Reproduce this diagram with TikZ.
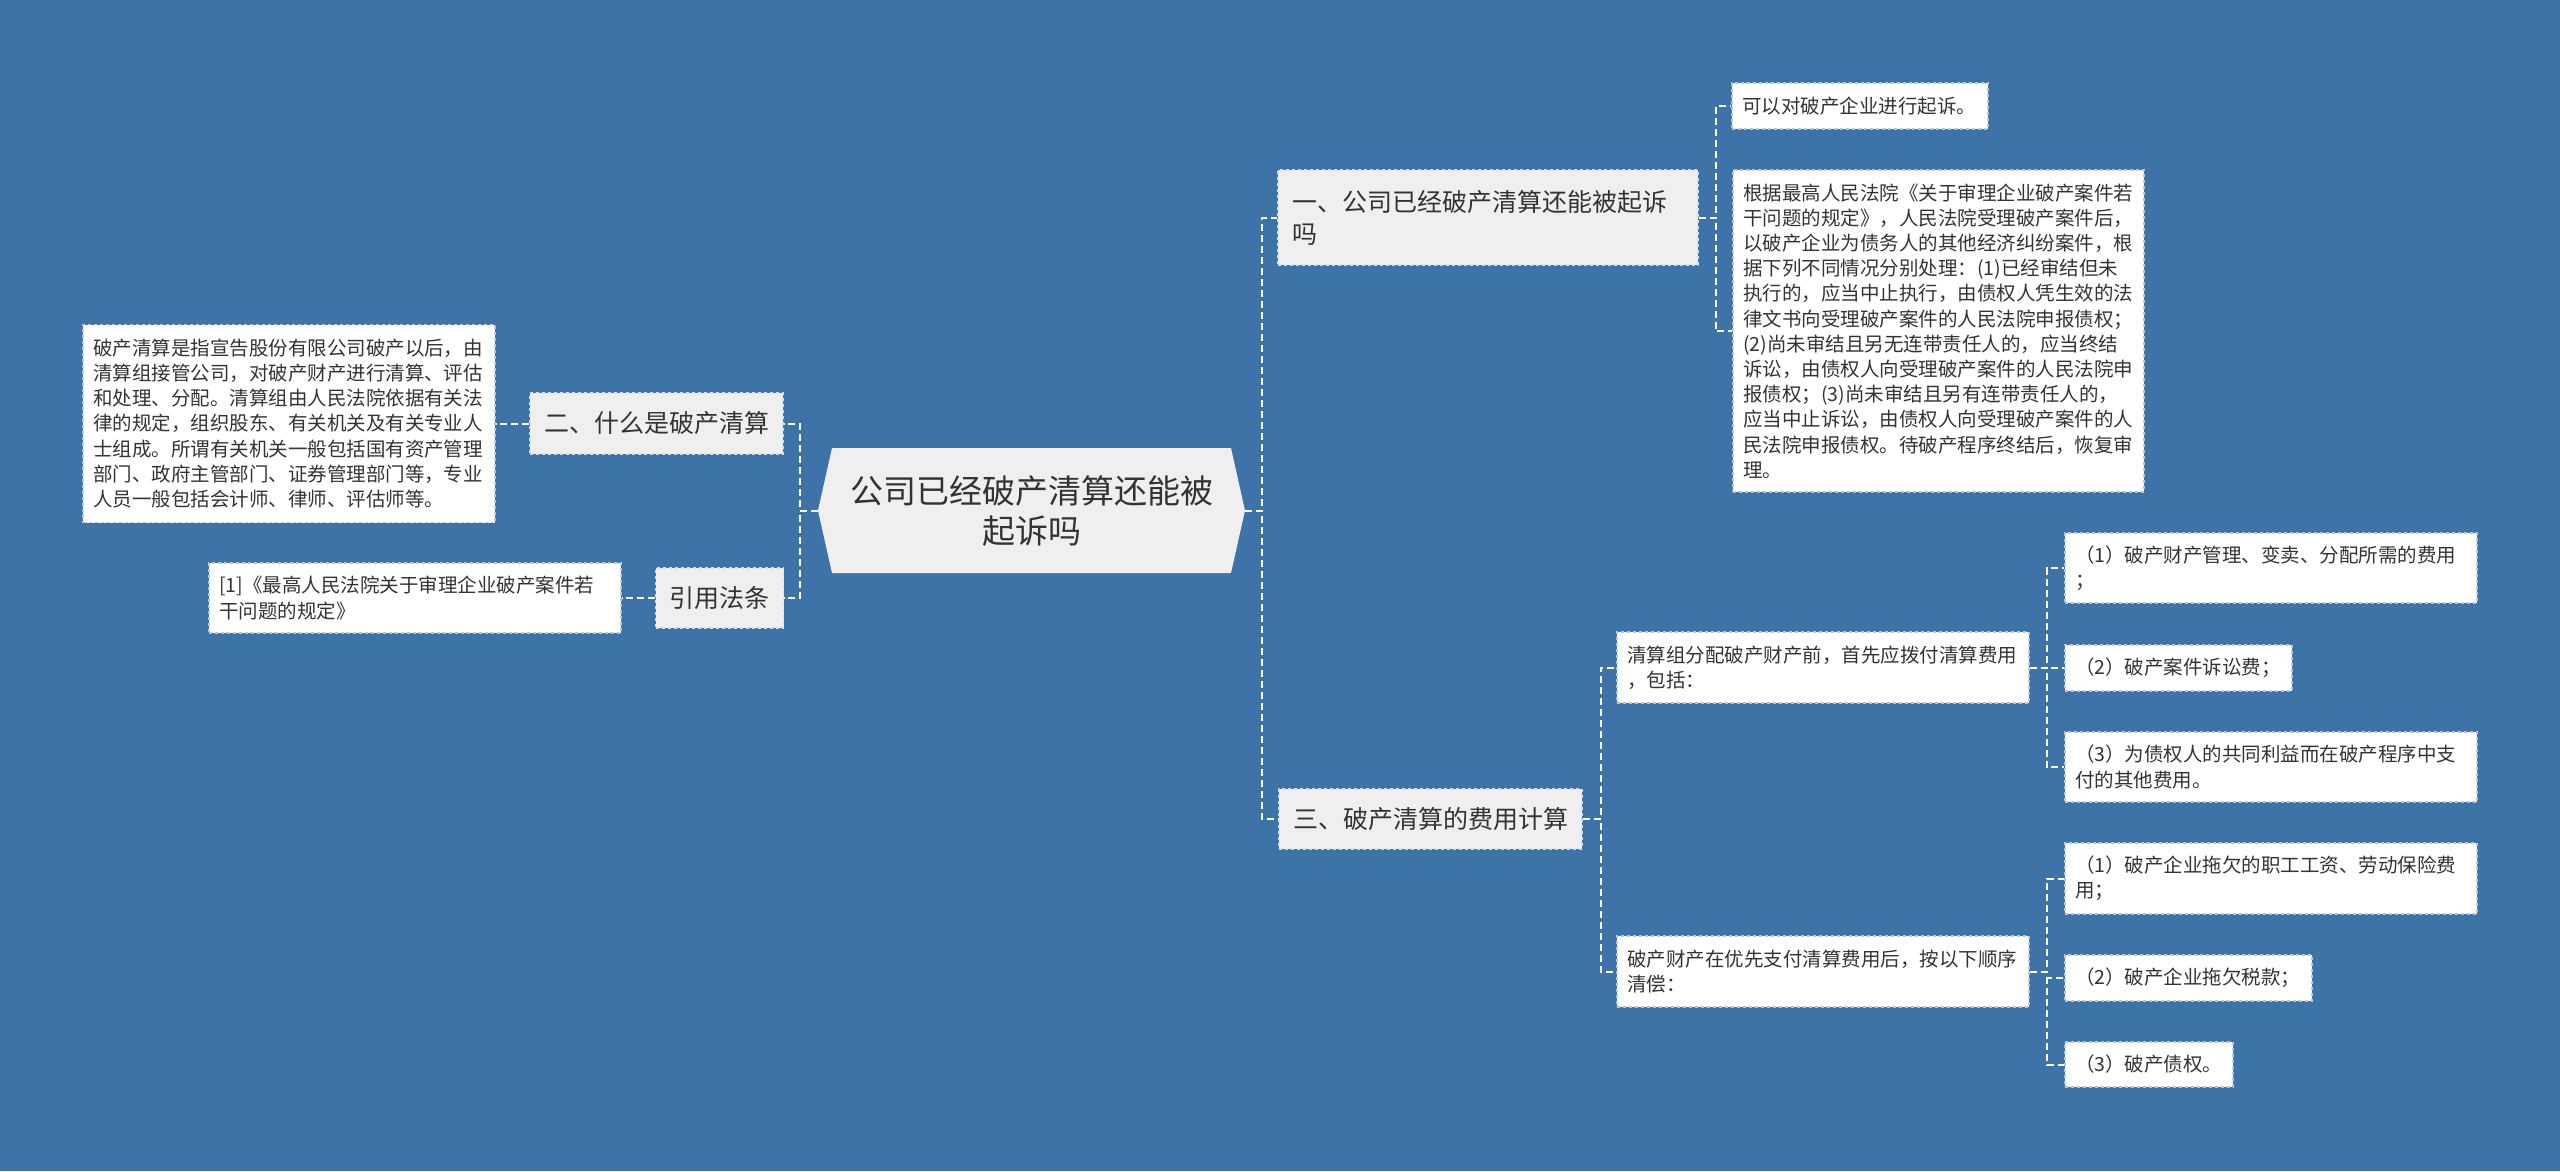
\documentclass[tikz,border=0pt]{standalone}
\usepackage{fontspec}
\setmainfont{Noto Sans CJK SC}
\definecolor{bgblue}{HTML}{3D73A6}
\definecolor{boxgray}{HTML}{EFEFEF}
\definecolor{txt}{HTML}{333333}
\definecolor{leafedge}{HTML}{BCC6D0}
\definecolor{midedge}{HTML}{D5DFE9}
\begin{document}
\begin{tikzpicture}[x=1pt,y=-1pt,
  conn/.style={draw=white, line width=2pt, dash pattern=on 7pt off 4pt},
  mid/.style={fill=boxgray, draw=midedge, dashed, line width=1.2pt, text=txt, font=\fontsize{25}{32}\selectfont, inner xsep=14pt, inner ysep=0pt},
  leaf/.style={fill=white, draw=leafedge, dashed, line width=1.2pt, text=txt, font=\fontsize{19.5}{25.2}\selectfont, align=left, inner xsep=10pt, inner ysep=0pt},
]
\fill[bgblue] (0,0) rectangle (2560,1171);
\useasboundingbox (0,0) rectangle (2560,1171);

% root
\fill[boxgray] (818,510.5) -- (832,448) -- (1231,448) -- (1245,510.5) -- (1231,573) -- (832,573) -- cycle;
\node[text=txt, font=\fontsize{33}{40}\selectfont, align=center, minimum width=427pt, minimum height=125pt, inner sep=0pt] (root) at (1031.5,510.5) {公司已经破产清算还能被\\起诉吗};

% level 1
\node[mid, text width=392pt, align=left, minimum height=95pt] (n1) at (1488,217.5) {一、公司已经破产清算还能被起诉\\吗};
\node[mid, minimum width=253pt, minimum height=61pt] (n2) at (656.5,423.5) {二、什么是破产清算};
\node[mid, minimum width=303pt, minimum height=60pt] (n3) at (1430.5,819) {三、破产清算的费用计算};
\node[mid, minimum width=127pt, minimum height=60pt] (n4) at (719.5,598) {引用法条};

% leaves
\node[leaf, text width=236pt, minimum height=46pt] (L1a) at (1860,106) {可以对破产企业进行起诉。};
\node[leaf, text width=391pt, minimum height=322pt] (L1b) at (1938.5,331) {根据最高人民法院《关于审理企业破产案件若\\干问题的规定》，人民法院受理破产案件后，\\以破产企业为债务人的其他经济纠纷案件，根\\据下列不同情况分别处理：(1)已经审结但未\\执行的，应当中止执行，由债权人凭生效的法\\律文书向受理破产案件的人民法院申报债权；\\(2)尚未审结且另无连带责任人的，应当终结\\诉讼，由债权人向受理破产案件的人民法院申\\报债权；(3)尚未审结且另有连带责任人的，\\应当中止诉讼，由债权人向受理破产案件的人\\民法院申报债权。待破产程序终结后，恢复审\\理。};
\node[leaf, text width=392pt, minimum height=198pt] (L2) at (289,423.5) {破产清算是指宣告股份有限公司破产以后，由\\清算组接管公司，对破产财产进行清算、评估\\和处理、分配。清算组由人民法院依据有关法\\律的规定，组织股东、有关机关及有关专业人\\士组成。所谓有关机关一般包括国有资产管理\\部门、政府主管部门、证券管理部门等，专业\\人员一般包括会计师、律师、评估师等。};
\node[leaf, text width=392pt, minimum height=70pt] (L4) at (415,598) {[1]《最高人民法院关于审理企业破产案件若\\干问题的规定》};
\node[leaf, text width=392pt, minimum height=71pt] (L3a) at (1823,667.5) {清算组分配破产财产前，首先应拨付清算费用\\，包括：};
\node[leaf, text width=392pt, minimum height=71pt] (L3b) at (1823,971.5) {破产财产在优先支付清算费用后，按以下顺序\\清偿：};
\node[leaf, text width=392pt, minimum height=70pt] (L3a1) at (2271,568) {（1）破产财产管理、变卖、分配所需的费用\\；};
\node[leaf, text width=207pt, minimum height=46pt] (L3a2) at (2178.5,668) {（2）破产案件诉讼费；};
\node[leaf, text width=392pt, minimum height=70pt] (L3a3) at (2271,767) {（3）为债权人的共同利益而在破产程序中支\\付的其他费用。};
\node[leaf, text width=392pt, minimum height=71pt] (L3b1) at (2271,878.5) {（1）破产企业拖欠的职工工资、劳动保险费\\用；};
\node[leaf, text width=227pt, minimum height=46pt] (L3b2) at (2188.5,978) {（2）破产企业拖欠税款；};
\node[leaf, text width=148pt, minimum height=45pt] (L3b3) at (2149,1064.5) {（3）破产债权。};

% connectors
\draw[conn] (root.east) -- ++(17,0) |- (n1.west);
\draw[conn] (root.east) -- ++(17,0) |- (n3.west);
\draw[conn] (root.west) -- ++(-18,0) |- (n2.east);
\draw[conn] (root.west) -- ++(-18,0) |- (n4.east);
\draw[conn] (n2.west) -- (L2.east);
\draw[conn] (n4.west) -- (L4.east);
\draw[conn] (n1.east) -- ++(17,0) |- (L1a.west);
\draw[conn] (n1.east) -- ++(17,0) |- (L1b.west);
\draw[conn] (n3.east) -- ++(18,0) |- (L3a.west);
\draw[conn] (n3.east) -- ++(18,0) |- (L3b.west);
\draw[conn] (L3a.east) -- ++(17,0) |- (L3a1.west);
\draw[conn] (L3a.east) -- ++(17,0) |- (L3a2.west);
\draw[conn] (L3a.east) -- ++(17,0) |- (L3a3.west);
\draw[conn] (L3b.east) -- ++(17,0) |- (L3b1.west);
\draw[conn] (L3b.east) -- ++(17,0) |- (L3b2.west);
\draw[conn] (L3b.east) -- ++(17,0) |- (L3b3.west);
\end{tikzpicture}
\end{document}
